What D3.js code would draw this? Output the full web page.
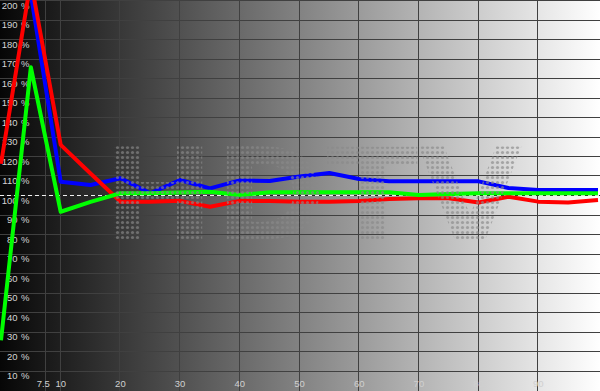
<!DOCTYPE html>
<html>
<head>
<meta charset="utf-8">
<script src="https://cdn.jsdelivr.net/npm/d3@7"></script>
<style>
  html, body { margin: 0; padding: 0; background: #000; }
  svg { display: block; }
</style>
</head>
<body>
<div id="gamma-chart"></div>
<script>
// stimulus level (% white) and measured luminance relative to target (%)
const stimulus = [0, 5, 10, 15, 20, 25, 30, 35, 40, 45, 50, 55, 60, 65, 70, 75, 80, 85, 90, 95, 100];
const red   = [116, 210, 125.7, 111, 96.6, 96.6, 97, 94, 97, 96.9, 96.6, 96.6, 96.9, 98, 98.3, 98.3, 96.2, 99.1, 96.6, 96.2, 97.4];
const green = [25.5, 165.5, 91.4, 96.5, 100.9, 100.9, 101.3, 101.7, 100, 101.4, 101.4, 101.4, 101.4, 101.4, 100, 100.5, 100.9, 100.9, 100.9, 100.9, 100.9];
const blue  = [null, 203, 106.8, 105.1, 108.6, 100.9, 107.7, 103.4, 107.5, 107.2, 109.5, 111.3, 108.2, 107, 107, 107, 107, 103.6, 102.6, 102.6, 102.6];

const xTicks = [7.5, 10, 20, 30, 40, 50, 60, 70, 80, 90];
const xTickLabels = ['7.5', '10', '20', '30', '40', '50', '60', '70', '80', '90'];
const yTicks = [10, 20, 30, 40, 50, 60, 70, 80, 90, 100, 110, 120, 130, 140, 150, 160, 170, 180, 190, 200];

const width = 600,
      height = 391;

let svg = d3.select('#gamma-chart')
            .append('svg')
              .attr('width', width)
              .attr('height', height);

let defs = svg.append('defs');

let grad = defs.append('linearGradient')
    .attr('id', 'bg')
    .attr('x1', 0).attr('x2', 1)
    .attr('y1', 0).attr('y2', 0);
grad.append('stop').attr('offset', 0).attr('stop-color', '#060606');
grad.append('stop').attr('offset', 1).attr('stop-color', '#ffffff');

let dots = defs.append('pattern')
    .attr('id', 'dots')
    .attr('patternUnits', 'userSpaceOnUse')
    .attr('width', 5)
    .attr('height', 5);
dots.append('circle')
    .attr('cx', 2.5).attr('cy', 2.5).attr('r', 1.6)
    .attr('fill', '#8a8a8a');

defs.append('clipPath').attr('id', 'clip')
  .append('rect')
    .attr('width', width)
    .attr('height', height);

let x = d3.scaleLinear()
  .domain([0, 100])
  .range([1, 598]);

let y = d3.scaleLinear()
  .domain([0, 200])
  .range([390, 0]);

svg.append('rect')
    .attr('width', width)
    .attr('height', height)
    .attr('fill', 'url(#bg)');

// grid
svg.append('g')
  .selectAll('line')
  .data(yTicks.filter((d) => d !== 100))
  .join('line')
    .attr('x1', 0)
    .attr('x2', width)
    .attr('y1', (d) => Math.round(y(d)) + 0.5)
    .attr('y2', (d) => Math.round(y(d)) + 0.5)
    .attr('stroke', '#404040')
    .attr('stroke-width', 1);

svg.append('g')
  .selectAll('line')
  .data(xTicks)
  .join('line')
    .attr('x1', (d) => Math.round(x(d)) - 0.5)
    .attr('x2', (d) => Math.round(x(d)) - 0.5)
    .attr('y1', 0)
    .attr('y2', height)
    .attr('stroke', '#404040')
    .attr('stroke-width', 1);

// 100 % reference, dashed so that it shows on both dark and light grey
let ref = Math.round(y(100)) + 0.5;
svg.append('line')
    .attr('x1', 0).attr('x2', width)
    .attr('y1', ref).attr('y2', ref)
    .attr('stroke', '#222')
    .attr('stroke-dasharray', '4,3')
    .attr('stroke-dashoffset', 3.5);
svg.append('line')
    .attr('x1', 0).attr('x2', width)
    .attr('y1', ref).attr('y2', ref)
    .attr('stroke', '#f0f0f0')
    .attr('stroke-dasharray', '4,3');

// labels
let yLab = svg.append('g')
    .attr('font-family', 'Liberation Sans, Arial, sans-serif')
    .attr('font-size', 9.5)
    .attr('fill', '#d4d4d4');
yLab.selectAll('text.num')
  .data(yTicks)
  .join('text')
    .attr('class', 'num')
    .attr('x', 17.5)
    .attr('y', (d) => y(d) + 8.5)
    .attr('text-anchor', 'end')
    .text((d) => d);
yLab.selectAll('text.pct')
  .data(yTicks)
  .join('text')
    .attr('class', 'pct')
    .attr('x', 21)
    .attr('y', (d) => y(d) + 8.5)
    .text('%');

svg.append('g')
    .attr('font-family', 'Liberation Sans, Arial, sans-serif')
    .attr('font-size', 9.5)
    .attr('fill', '#d0d0d0')
  .selectAll('text')
  .data(xTicks)
  .join('text')
    .attr('x', (d, i) => x(d) - (i === 0 ? 2.5 : 0))
    .attr('y', 387)
    .attr('text-anchor', 'middle')
    .text((d, i) => xTickLabels[i]);

// measured curves
let line = d3.line()
  .defined((d) => d[1] !== null)
  .x((d) => x(d[0]))
  .y((d) => y(d[1]));

let series = [
  { name: 'blue',  color: '#0000ff', values: blue },
  { name: 'red',   color: '#ff0000', values: red },
  { name: 'green', color: '#00ff00', values: green }
];

svg.append('g')
    .attr('clip-path', 'url(#clip)')
  .selectAll('path')
  .data(series)
  .join('path')
    .attr('fill', 'none')
    .attr('stroke', (d) => d.color)
    .attr('stroke-width', 4)
    .attr('stroke-linejoin', 'round')
    .attr('d', (d) => line(stimulus.map((s, i) => [s, d.values[i]])));

// dotted watermark
svg.append('text')
    .attr('x', 102)
    .attr('y', 240)
    .attr('font-family', 'DejaVu Sans, sans-serif')
    .attr('font-weight', 'bold')
    .attr('font-size', 128)
    .attr('textLength', 420)
    .attr('lengthAdjust', 'spacingAndGlyphs')
    .attr('fill', 'url(#dots)')
    .attr('opacity', 0.65)
    .text('HDTV');
</script>
</body>
</html>
